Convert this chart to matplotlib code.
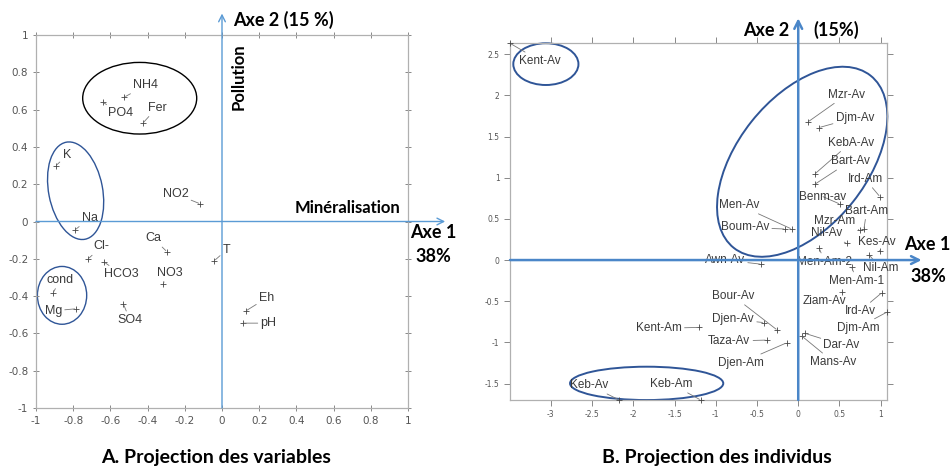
import matplotlib.pyplot as plt
from matplotlib.patches import Ellipse
from matplotlib.ticker import FuncFormatter, MultipleLocator

# --- A. variables (coordonnees sur axes 1 et 2) ---
var_noms = ['NH4', 'PO4', 'Fer', 'K', 'Na', 'NO2', 'Ca', 'T', 'Cl-', 'HCO3',
            'NO3', 'cond', 'Mg', 'SO4', 'Eh', 'pH']
var_x = [-0.525, -0.641, -0.426, -0.892, -0.79, -0.118, -0.297, -0.041, -0.719,
         -0.633, -0.319, -0.91, -0.785, -0.53, 0.129, 0.111]
var_y = [0.667, 0.64, 0.527, 0.30, -0.045, 0.095, -0.161, -0.21, -0.20,
         -0.218, -0.336, -0.386, -0.468, -0.443, -0.479, -0.545]
# position des etiquettes
var_lab_x = [-0.41, -0.548, -0.35, -0.835, -0.71, -0.25, -0.37, 0.025, -0.647,
             -0.54, -0.28, -0.87, -0.907, -0.495, 0.24, 0.25]
var_lab_y = [0.73, 0.58, 0.61, 0.354, 0.02, 0.148, -0.09, -0.152, -0.134,
             -0.283, -0.277, -0.313, -0.479, -0.527, -0.41, -0.545]

# --- B. individus ---
ind_noms = ['Kent-Av', 'Mzr-Av', 'Djm-Av', 'KebA-Av', 'Bart-Av', 'Ird-Am', 'Benm-av',
            'Bart-Am', 'Mzr-Am', 'Men-Av', 'Boum-Av', 'Nil-Av', 'Kes-Av', 'Men-Am-2',
            'Nil-Am', 'Men-Am-1', 'Awn-Av', 'Ziam-Av', 'Ird-Av', 'Djm-Am', 'Bour-Av',
            'Djen-Av', 'Kent-Am', 'Taza-Av', 'Dar-Av', 'Mans-Av', 'Djen-Am',
            'Keb-Av', 'Keb-Am']
ind_x = [-3.495, 0.121, 0.255, 0.2, 0.2, 0.99, 0.505, 0.796, 0.748, -0.08, -0.16,
         0.587, 0.99, 0.255, 0.861, 0.647, -0.452, 0.526, 1.01, 1.08, -0.255,
         -0.416, -1.2, -0.383, 0.081, 0.04, -0.14, -2.17, -1.183]
ind_y = [2.633, 1.68, 1.61, 1.045, 0.92, 0.77, 0.68, 0.373, 0.365, 0.377, 0.377,
         0.203, 0.113, 0.142, 0.06, -0.08, -0.05, -0.385, -0.4, -0.63, -0.85,
         -0.76, -0.818, -0.972, -0.89, -0.92, -1.005, -1.70, -1.70]
ind_lab_x = [-3.13, 0.587, 0.687, 0.635, 0.627, 0.81, 0.3, 0.83, 0.445, -0.715,
             -0.646, 0.344, 0.95, 0.32, 1.0, 0.707, -0.888, 0.32, 0.748, 0.727,
             -0.788, -0.788, -1.69, -0.836, 0.526, 0.424, -0.698, -2.533, -1.535]
ind_lab_y = [2.42, 2.01, 1.73, 1.425, 1.2, 0.985, 0.77, 0.6, 0.474, 0.668, 0.397,
             0.324, 0.225, -0.02, -0.1, -0.25, 0.0, -0.5, -0.62, -0.82, -0.437,
             -0.72, -0.83, -0.985, -1.03, -1.236, -1.248, -1.52, -1.507]

W, H = 951, 466
fig = plt.figure(figsize=(W / 100, H / 100), dpi=100)

bleu = '#5B9BD5'
bleu_fonce = '#2F5597'
fmt = FuncFormatter(lambda v, p: '%g' % round(v, 2))
police = 'Lato'


def style_axes(ax, taille, direction):
    for s in ax.spines.values():
        s.set_color('#b0b0b0')
        s.set_linewidth(0.9)
    ax.tick_params(which='both', direction=direction, length=4, width=0.7, color='#888888',
                   labelsize=taille, labelcolor='#555555', top=True, right=True)
    ax.xaxis.set_major_formatter(fmt)
    ax.yaxis.set_major_formatter(fmt)


def etiquettes(ax, xs, ys, lx, ly, noms, taille):
    ax.plot(xs, ys, '+', color='#444444', ms=5, mew=0.6, clip_on=False, zorder=3)
    for x, y, tx, ty, n in zip(xs, ys, lx, ly, noms):
        ax.annotate(n, xy=(x, y), xytext=(tx, ty), ha='center', va='center',
                    fontsize=taille, color='#3a3a3a', family='Liberation Sans',
                    annotation_clip=False,
                    arrowprops=dict(arrowstyle='-', color='#777777', lw=0.6,
                                    shrinkA=0, shrinkB=1))


# ---------- A. Projection des variables ----------
ax1 = fig.add_axes([36 / W, 1 - 408 / H, 372 / W, 373 / H])
ax1.set_xlim(-1, 1)
ax1.set_ylim(-1, 1)
ax1.xaxis.set_major_locator(MultipleLocator(0.2))
ax1.yaxis.set_major_locator(MultipleLocator(0.2))
style_axes(ax1, 7.5, 'inout')
etiquettes(ax1, var_x, var_y, var_lab_x, var_lab_y, var_noms, 9)

ax1.annotate('', xy=(0, 1.115), xytext=(0, -1), annotation_clip=False,
             arrowprops=dict(arrowstyle='->', color=bleu, lw=1.0, shrinkA=0, shrinkB=0,
                             mutation_scale=12))
ax1.annotate('', xy=(1.2, 0), xytext=(-1, 0), annotation_clip=False,
             arrowprops=dict(arrowstyle='->', color=bleu, lw=1.0, shrinkA=0, shrinkB=0,
                             mutation_scale=12))

ax1.add_patch(Ellipse((-0.4425, 0.661), 0.613, 0.384, fill=False, ec='black', lw=1.0,
                      clip_on=False))
ax1.add_patch(Ellipse((-0.787, 0.165), 0.53, 0.29, angle=-79, fill=False, ec=bleu_fonce,
                      lw=1.0, clip_on=False))
ax1.add_patch(Ellipse((-0.86, -0.396), 0.265, 0.31, fill=False, ec=bleu_fonce, lw=1.0,
                      clip_on=False))

# ---------- B. Projection des individus ----------
ax2 = fig.add_axes([510 / W, 1 - 400 / H, 377.3 / W, 356.7 / H])
ax2.set_xlim(-3.495, 1.08)
ax2.set_ylim(-1.70, 2.633)
ax2.xaxis.set_major_locator(MultipleLocator(0.5))
ax2.yaxis.set_major_locator(MultipleLocator(0.5))
style_axes(ax2, 5.5, 'out')
etiquettes(ax2, ind_x, ind_y, ind_lab_x, ind_lab_y, ind_noms, 8.5)

ax2.annotate('', xy=(0, 2.937), xytext=(0, -1.70), annotation_clip=False,
             arrowprops=dict(arrowstyle='->', color='#4A86C8', lw=1.8, shrinkA=0, shrinkB=0,
                             mutation_scale=14))
ax2.annotate('', xy=(1.496, 0), xytext=(-3.495, 0), annotation_clip=False,
             arrowprops=dict(arrowstyle='->', color='#4A86C8', lw=1.8, shrinkA=0, shrinkB=0,
                             mutation_scale=14))

ax2.add_patch(Ellipse((-3.06, 2.38), 0.79, 0.507, fill=False, ec=bleu_fonce, lw=1.4,
                      clip_on=False))
ax2.add_patch(Ellipse((0.048, 1.194), 2.67, 1.57, angle=51.6, fill=False, ec=bleu_fonce,
                      lw=1.4, clip_on=False))
ax2.add_patch(Ellipse((-1.838, -1.498), 1.858, 0.405, fill=False, ec=bleu_fonce, lw=1.4,
                      clip_on=False))


# ---------- textes en gras ----------
def txt(x, y, s, ha='left', rot=0, taille=13):
    fig.text(x / W, 1 - y / H, s, ha=ha, va='center', fontsize=taille, fontweight='bold',
             family=police, rotation=rot)


txt(233, 20, 'Axe 2 (15 %)')
txt(239, 77, 'Pollution', ha='center', rot=90, taille=12)
txt(400, 208, 'Minéralisation', ha='right', taille=12)
txt(433, 233, 'Axe 1', ha='center')
txt(433, 257, '38%', ha='center')
txt(216, 457, 'A. Projection des variables', ha='center', taille=14)

txt(789, 30, 'Axe 2', ha='right')
txt(813, 30, '(15%)')
txt(927, 245, 'Axe 1', ha='center')
txt(928, 277, '38%', ha='center')
txt(717, 457, 'B. Projection des individus', ha='center', taille=14)

fig.savefig('out.png', dpi=100)
